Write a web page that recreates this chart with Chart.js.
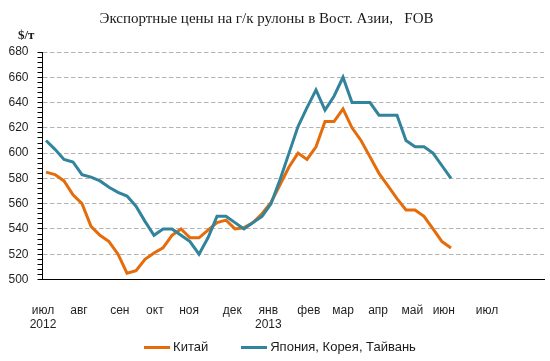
<!DOCTYPE html>
<html>
<head>
<meta charset="utf-8">
<script src="https://cdn.jsdelivr.net/npm/chart.js@4"></script>
<style>
  body { margin: 0; background: #fff; }
  #wrap { width: 550px; height: 361px; position: relative; }
  #title { position: absolute; left: 0; top: 9px; width: 533px; text-align: center; white-space: pre;
           font: 15px/18px "Liberation Serif", serif; color: #1a1a1a; }
  #unit { position: absolute; left: 18px; top: 28px; font: bold 13px/14px "Liberation Serif", serif; color: #1a1a1a; }
  #legend { position: absolute; left: 0; top: 340px; width: 560px; display: flex; justify-content: center; gap: 33px;
            font: 13px/14px "Liberation Sans", sans-serif; color: #1a1a1a; }
  #legend .item { display: flex; align-items: center; }
  #legend .swatch { display: inline-block; width: 26px; height: 3px; margin-right: 3px; }
  #veil { position: absolute; left: 30px; top: 45px; width: 516px; height: 240px; background: rgba(255,255,255,0.004); pointer-events: none; }
</style>
</head>
<body>
<div id="wrap">
  <canvas id="chart"></canvas>
  <div id="title"></div>
  <div id="unit">$/т</div>
  <div id="legend"></div>
  <div id="veil"></div>
</div>
<script>
// weekly prices, Jul 2012 - May 2013, $/t
const chinaPrices = [585, 583, 578, 567, 560, 542, 535, 530, 520, 505, 507, 516, 521, 525, 535, 540,
    533, 533, 539, 545, 547, 540, 541, 545, 552, 561, 575, 589, 600, 595, 605, 625, 625, 635,
    620, 610, 597, 584, 574, 564, 555, 555, 550, 540, 530, 525];
const asiaPrices = [610, 603, 595, 593, 583, 581, 578, 573, 569, 566, 558, 546, 535, 540, 540, 535,
    530, 520, 533, 550, 550, 545, 540, 545, 550, 560, 579, 600, 621, 636, 650, 634, 645, 660,
    640, 640, 640, 630, 630, 630, 610, 605, 605, 600, 590, 580];

// month labels and where they fall (in weeks from the first point)
const monthLabels = [['июл', '2012'], 'авг', 'сен', 'окт', 'ноя', 'дек', ['янв', '2013'], 'фев', 'мар', 'апр', 'май', 'июн', 'июл'];
const monthWeeks = [-0.33, 3.67, 8.2, 12.1, 15.9, 20.7, 24.7, 29.2, 33, 36.9, 40.7, 44.2, 49];

const seriesNames = ['Китай', 'Япония, Корея, Тайвань'];
const seriesColors = ['#E46C0A', '#31849B'];
const titleText = 'Экспортные цены на г/к рулоны в Вост. Азии,   FOB';

const toPoints = arr => arr.map((v, i) => ({ x: i, y: v }));

document.getElementById('title').textContent = titleText;
const legendBox = document.getElementById('legend');
seriesNames.forEach((name, i) => {
    const item = document.createElement('span');
    item.className = 'item';
    const sw = document.createElement('span');
    sw.className = 'swatch';
    sw.style.background = seriesColors[i];
    item.appendChild(sw);
    item.appendChild(document.createTextNode(name));
    legendBox.appendChild(item);
});

// software canvas, thin axis lines got lost otherwise
const ctx = document.getElementById('chart').getContext('2d', { willReadFrequently: true });

// second series first so it is drawn on top, as in the original
new Chart(ctx, {
    type: 'line',
    data: {
        datasets: [{
            label: seriesNames[1],
            data: toPoints(asiaPrices),
            borderColor: seriesColors[1]
        }, {
            label: seriesNames[0],
            data: toPoints(chinaPrices),
            borderColor: seriesColors[0]
        }]
    },
    options: {
        responsive: true,
        maintainAspectRatio: false,
        animation: false,
        layout: { padding: { top: 52, left: 0, right: 6, bottom: 21.5 } },
        elements: {
            line: { borderWidth: 3, tension: 0 },
            point: { radius: 0 }
        },
        plugins: {
            legend: { display: false }
        },
        scales: {
            x: {
                type: 'linear',
                min: -0.389,
                max: 55.333,
                afterFit: s => { s.height = 60; },
                afterBuildTicks: s => { s.ticks = monthWeeks.map(v => ({ value: v })); },
                grid: { display: false, drawTicks: false },
                border: { display: true, color: '#000', width: 1 },
                ticks: {
                    autoSkip: false,
                    maxRotation: 0,
                    padding: 24,
                    color: '#1f1f1f',
                    font: { family: '"Liberation Sans"', size: 12 },
                    callback: (v, i) => monthLabels[i]
                }
            },
            y: {
                min: 500,
                max: 680,
                afterFit: s => { s.width = 42.5; },
                grid: {
                    color: c => (c.tick && c.tick.value % 20 === 0 && c.tick.value !== 500) ? '#b4b4b4' : 'rgba(0,0,0,0)',
                    tickColor: '#000',
                    tickLength: 5,
                    lineWidth: 1
                },
                border: { display: true, color: '#000', width: 1, dash: [4.5, 2.5] },
                ticks: {
                    stepSize: 4,
                    autoSkip: false,
                    padding: 9,
                    color: '#1f1f1f',
                    font: { family: '"Liberation Sans"', size: 12 },
                    callback: v => (v % 20 === 0 ? v : '')
                }
            }
        }
    }
});
</script>
</body>
</html>
